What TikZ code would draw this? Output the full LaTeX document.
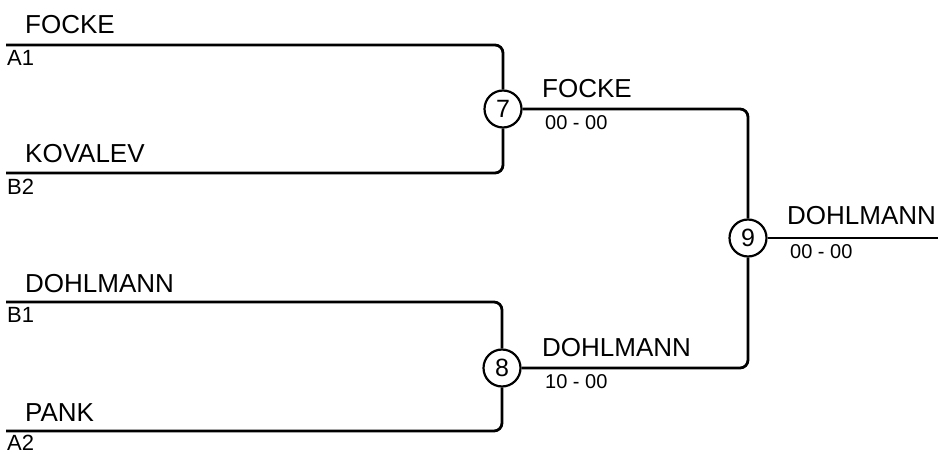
\documentclass[tikz,border=0pt]{standalone}
\usepackage{fontspec}
\setmainfont{Liberation Sans}
\begin{document}
\begin{tikzpicture}[x=1pt,y=-1pt]
	\tikzstyle{matchnr}=[circle,draw=black,line width=2.2pt,minimum size=37pt,inner sep=0pt,fill=white,font=\fontsize{25}{27}\selectfont]
	\tikzstyle{player}=[anchor=base west,inner sep=0pt,font=\fontsize{26}{28}\selectfont]
	\tikzstyle{seed}=[anchor=base west,inner sep=0pt,font=\fontsize{22}{24}\selectfont]
	\tikzstyle{score}=[anchor=base west,inner sep=0pt,font=\fontsize{20}{22}\selectfont]
	\tikzstyle{bracket}=[line width=2.8pt,rounded corners=8pt]
	
	\useasboundingbox (0,0) rectangle (942,454);
	
	% Draw match circles
	\node[matchnr] (m7) at (503,109) {7};
	\node[matchnr] (m8) at (502,368) {8};
	\node[matchnr] (m9) at (748,238) {9};
	
	% Draw first round lines
	\coordinate (a1) at (6,45);
	\coordinate (b2) at (6,173);
	\coordinate (b1) at (6,302);
	\coordinate (a2) at (6,431);
	\coordinate (winner) at (938,238);
	
	\draw[bracket] (a1) -| (m7);
	\draw[bracket] (b2) -| (m7);
	\draw[bracket] (b1) -| (m8);
	\draw[bracket] (a2) -| (m8);
	\draw[bracket] (m7) -| (m9);
	\draw[bracket] (m8) -| (m9);
	\draw[bracket] (m9) -- (winner);
	
	% Draw names and seeds
	\node[player] (pa1) at (25,34) {FOCKE};
	\node[seed] (sa1) at (7,66) {A1};
	\node[player] (pb2) at (25,163) {KOVALEV};
	\node[seed] (sb2) at (7,195) {B2};
	\node[player] (pb1) at (25,292) {DOHLMANN};
	\node[seed] (sb1) at (7,323) {B1};
	\node[player] (pa2) at (25,421) {PANK};
	\node[seed] (sa2) at (7,450) {A2};
	
	% Draw winners and scores
	\node[player] (w7) at (542,98) {FOCKE};
	\node[score] (r7) at (545,130) {00 - 00};
	\node[player] (w8) at (542,356) {DOHLMANN};
	\node[score] (r8) at (545,388) {10 - 00};
	\node[player] (w9) at (787,225) {DOHLMANN};
	\node[score] (r9) at (790,259) {00 - 00};
	
\end{tikzpicture}
\end{document}
